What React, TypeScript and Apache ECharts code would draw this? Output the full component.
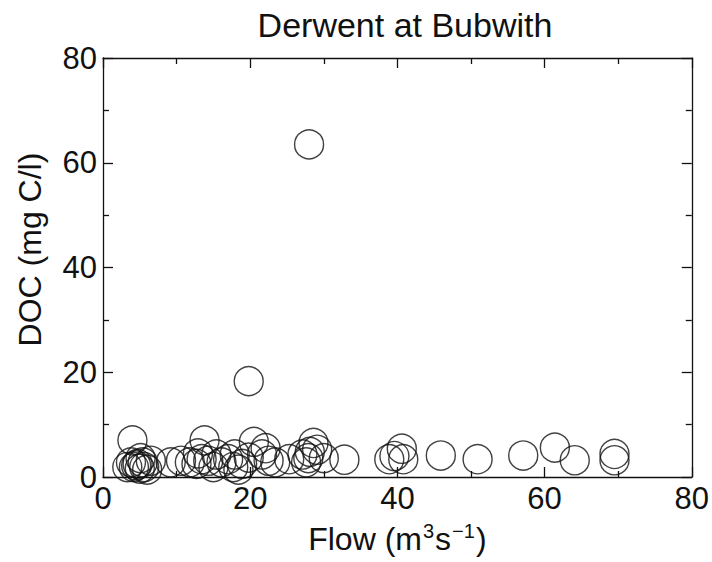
import React, { useEffect, useRef } from "react";
import * as echarts from "echarts";

const titleText = "Derwent at Bubwith";
const xTicks = [0, 20, 40, 60, 80];
const yTicks = [0, 20, 40, 60, 80];

// Flow (m3 s-1)
const flow = [
  28.0, 19.8,
  4.0,
  3.8, 4.7, 5.4, 4.2, 5.6, 6.5, 3.3, 5.1, 6.0, 4.5, 5.0,
  9.2,
  10.6, 11.8, 12.7, 13.4, 12.9,
  13.8,
  14.3, 15.0, 15.4, 16.1, 17.0, 17.7, 17.9,
  18.9, 18.4,
  20.5, 19.8,
  21.6, 22.5, 23.4, 22.1,
  25.3, 27.1, 27.6,
  28.6, 28.1, 27.9, 29.1, 30.0,
  32.8,
  38.9, 39.6, 40.6, 40.8,
  45.9, 50.9, 57.1, 61.4, 64.1, 69.5, 69.5,
];

// DOC (mg C/l)
const doc = [
  63.5, 18.3,
  7.0,
  2.8, 2.5, 2.8, 1.9, 1.9, 3.1, 1.9, 3.6, 1.4, 2.2, 1.6,
  2.8,
  3.1, 2.8, 2.5, 3.4, 4.5,
  7.0,
  3.1, 1.9, 4.3, 2.8, 3.4, 1.9, 4.3,
  2.5, 1.4,
  6.7, 3.7,
  4.3, 3.1, 2.8, 5.5,
  3.4, 4.3, 2.8,
  6.5, 4.8, 3.6, 5.2, 3.6,
  3.3,
  3.4, 4.0, 5.4, 3.4,
  4.1, 3.4, 4.1, 5.6, 3.2, 4.4, 3.2,
];

const FONT = "Liberation Sans";
const INK = "#111";

export default function App() {
  const ref = useRef<HTMLDivElement>(null);
  useEffect(() => {
    if (!ref.current) return;
    const chart = echarts.init(ref.current, null, { renderer: "svg" });
    const pts = flow.map((f, i) => [f, doc[i]]);
    const lineStyle = { color: INK, width: 1.3 };
    const common = {
      type: "value" as const,
      interval: 20,
      axisLine: { show: true, onZero: false, lineStyle },
      axisTick: { show: true, inside: true, length: 10, lineStyle },
      minorTick: { show: true, splitNumber: 2, length: 6, lineStyle },
      splitLine: { show: false },
    };
    const baseX = { ...common, min: xTicks[0], max: xTicks[xTicks.length - 1] };
    const baseY = { ...common, min: yTicks[0], max: yTicks[yTicks.length - 1] };
    chart.setOption({
      animation: false,
      backgroundColor: "#fff",
      title: {
        text: titleText,
        left: 400,
        textAlign: "center",
        top: 3,
        textStyle: { fontFamily: FONT, fontSize: 34, fontWeight: "normal", color: INK },
      },
      grid: { left: 103, right: 10, top: 58, bottom: 85 },
      xAxis: [
        {
          ...baseX,
          position: "bottom",
          axisLabel: { show: true, margin: 6, fontFamily: FONT, fontSize: 31, color: INK },
          name: "Flow (m{sup|3}s{sup|−1})",
          nameLocation: "middle",
          nameGap: 44,
          nameTextStyle: {
            fontFamily: FONT,
            fontSize: 32,
            color: INK,
            rich: {
              sup: { fontFamily: FONT, fontSize: 20, color: INK, verticalAlign: "top", padding: [0, 1, 15, 1] },
            },
          },
        },
        {
          ...baseX,
          position: "top",
          axisLabel: { show: false },
        },
      ],
      yAxis: [
        {
          ...baseY,
          position: "left",
          axisLabel: { show: true, margin: 6, fontFamily: FONT, fontSize: 31, color: INK },
          name: "DOC (mg C/l)",
          nameLocation: "middle",
          nameGap: 57,
          nameTextStyle: { fontFamily: FONT, fontSize: 32, color: INK, padding: [0, 0, 0, 36] },
        },
        {
          ...baseY,
          position: "right",
          axisLabel: { show: false },
        },
      ],
      series: [
        {
          type: "scatter",
          xAxisIndex: 0,
          yAxisIndex: 0,
          data: pts,
          symbol: "circle",
          symbolSize: 29,
          clip: false,
          itemStyle: { color: "rgba(0,0,0,0)", borderColor: INK, borderWidth: 1.4 },
          emphasis: { disabled: true },
        },
      ],
    });
    return () => chart.dispose();
  }, []);
  return (
    <div
      ref={ref}
      style={{ position: "absolute", left: 0, top: 0, width: 712, height: 562 }}
    />
  );
}
